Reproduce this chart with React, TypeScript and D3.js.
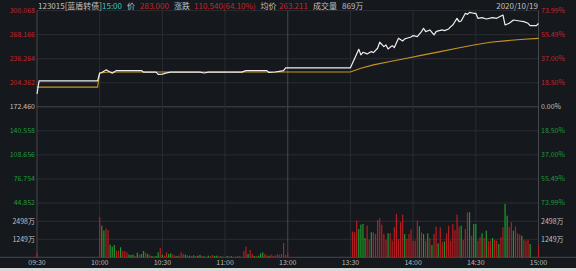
import React from 'react';
import * as d3 from 'd3';

// ---------- data ----------
const preClose = 172.46;
const priceTicks = [300.068, 268.166, 236.264, 204.362, 172.46, 140.558, 108.656, 76.754, 44.852];
const pctTicks = ['73.99%', '55.49%', '37.00%', '18.50%', '0.00%', '18.50%', '37.00%', '55.49%', '73.99%'];
const volTicks = [2498, 1249];
const volMax = 3747;
const timeTickMinutes = [0, 30, 60, 90, 120, 150, 180, 210, 240];
const timeLabels = ['09:30', '10:00', '10:30', '11:00', '13:00', '13:30', '14:00', '14:30', '15:00'];

const priceMinutes = [
  0, 1, 29, 30, 31, 33, 35, 36, 38, 50, 51, 57, 58, 60, 62, 64, 78, 80, 82, 98, 100, 110, 111, 114, 116, 118, 119, 120, 150,
  154, 155, 156, 158, 160, 161, 163, 164, 166, 167, 168, 170, 171, 173, 175, 176, 177, 179, 180, 182, 184, 185, 186, 188,
  190, 191, 192, 194, 195, 197, 198, 199, 201, 202, 203, 205, 206, 207, 209, 210, 211, 213, 215, 218, 220, 223, 224, 226,
  228, 231, 233, 235, 236, 239, 240,
];
const priceValues = [
  189.7, 206.95, 206.95, 217.3, 218.0, 221.4, 218.5, 217.1, 220.5, 220.5, 218.4, 218.4, 215.5, 215.8, 217.5, 218.4, 218.4,
  217.3, 218.4, 218.4, 220.5, 220.5, 218.0, 218.6, 219.5, 220.5, 224.2, 224.2, 224.2,
  248.8, 241.3, 244.8, 242.6, 245.7, 244.4, 250.1, 258.1, 252.3, 254.5, 249.2, 253.6, 251.0, 263.4, 259.8, 262.5, 263.4,
  265.1, 266.9, 265.6, 272.2, 276.6, 272.2, 274.4, 267.8, 272.2, 273.1, 274.4, 273.5, 275.7, 278.8, 281.0, 289.8, 285.4,
  286.3, 296.5, 295.1, 297.8, 296.5, 296.5, 289.8, 290.7, 288.9, 290.7, 289.8, 294.2, 281.0, 283.2, 287.6, 286.3, 285.4,
  283.2, 280.1, 280.1, 283.0,
];

const avgMinutes = [0, 29, 30, 33, 40, 150, 155, 161, 169, 177, 185, 193, 201, 209, 217, 225, 233, 240];
const avgValues = [198.5, 198.5, 217.0, 218.3, 218.6, 218.6, 223.6, 228.1, 232.5, 236.9, 241.3, 245.7, 250.1, 254.5, 258.1, 260.3, 262.0, 263.2];

// volume bars (万), up = 1 red, 0 green
const volMinutes = [
  0, 30, 31, 32, 33, 34, 35, 36, 37, 38, 39, 40, 41, 42, 43, 44, 45, 46, 47, 48, 49, 50, 51, 52, 53, 54, 55, 56, 57, 58, 59,
  60, 61, 62, 63, 64, 65, 66, 67, 68, 69, 70, 71, 72, 73, 74, 75, 76, 77, 78, 79, 80, 82, 83, 84, 85, 86, 87, 88, 89, 91,
  92, 93, 95, 96, 97, 99, 100, 101, 102, 103, 104, 105, 106, 107, 108, 109, 110, 111, 112, 113, 114, 115, 116, 117, 118,
  119, 120,
  151, 152, 153, 154, 155, 156, 157, 158, 159, 160, 161, 162, 163, 164, 165, 166, 167, 168, 169, 170, 171, 172, 173, 174,
  175, 176, 177, 178, 179, 180, 181, 182, 183, 184, 185, 186, 187, 188, 189, 190, 191, 192, 193, 194, 195, 196, 197, 198,
  199, 200, 201, 202, 203, 204, 205, 206, 207, 208, 209, 210, 211, 212, 213, 214, 215, 216, 217, 218, 219, 220, 221, 222,
  223, 224, 225, 226, 227, 228, 229, 230, 231, 232, 233, 234, 235, 236, 240,
];
const volValues = [
  324, 2776, 2197, 1850, 2012, 1897, 879, 740, 856, 463, 463, 694, 416, 440, 347, 185, 162, 185, 93, 324, 185, 231, 440, 324,
  231, 139, 93, 69, 93, 347, 648, 185, 116, 347, 231, 278, 185, 116, 93, 139, 347, 231, 185, 139, 116, 93, 139, 93, 116, 162,
  93, 69, 116, 69, 162, 93, 116, 69, 69, 46, 93, 69, 69, 46, 69, 93, 416, 740, 231, 509, 231, 93, 69, 116, 278, 347, 231, 139,
  93, 185, 116, 116, 231, 162, 231, 995, 162, 278,
  1781, 1735, 2544, 1966, 2267, 2313, 1342, 2197, 1226, 1735, 1735, 1619, 2591, 2706, 2267, 1619, 1203, 1665, 1688, 1157,
  2082, 3007, 1272, 2429, 2961, 1619, 1272, 1619, 1920, 1157, 1157, 2544, 2151, 1735, 1619, 1157, 1665, 1318, 856, 1619,
  2128, 971, 2082, 1041, 1110, 1665, 2197, 1157, 2313, 1897, 2961, 2128, 2197, 1203, 1966, 3123, 3123, 1503, 2313, 2313,
  1157, 1388, 1665, 1318, 1850, 1110, 1157, 1342, 1203, 1157, 925, 1388, 2082, 3701, 2891, 2082, 2429, 1850, 2128, 1665,
  1573, 1503, 1203, 1157, 1203, 925, 810,
];
const volUp = [
  1, 1, 0, 0, 1, 1, 0, 0, 0, 1, 1, 0, 1, 1, 1, 0, 0, 0, 1, 0, 1, 0, 0, 1, 0, 1, 0, 1, 0, 0, 1, 0, 1, 1, 0, 0, 1, 1, 0, 1, 1,
  1, 0, 1, 0, 1, 0, 1, 0, 0, 1, 0, 0, 1, 1, 0, 0, 1, 0, 1, 0, 1, 0, 1, 1, 1, 1, 1, 0, 1, 1, 0, 1, 0, 0, 0, 1, 1, 0, 1, 1, 1,
  1, 1, 1, 1, 1, 1,
  1, 1, 1, 0, 0, 0, 0, 1, 1, 0, 1, 1, 1, 1, 1, 1, 1, 0, 1, 1, 1, 1, 1, 1, 1, 0, 1, 1, 1, 1, 1, 1, 0, 1, 0, 1, 0, 1, 0, 1, 1,
  0, 1, 1, 0, 1, 1, 1, 1, 1, 1, 1, 0, 1, 1, 1, 0, 1, 0, 0, 1, 1, 0, 1, 0, 1, 1, 0, 1, 1, 0, 1, 1, 0, 0, 1, 1, 0, 1, 1, 1, 0,
  1, 1, 1, 0, 1,
];

// ---------- styles ----------
const BG = '#15181d';
const GRID = '#2a2d33';
const GRID_STRONG = '#45484e';
const RED = '#c4262c';
const GREEN = '#1f9a3a';
const GRAY = '#c0c0c0';
const FONT = '"Noto Sans CJK SC", "Noto Sans", sans-serif';

export default function App() {
  const W = 576;
  const H = 271;
  const left = 37;
  const right = 538.5;
  const x = d3.scaleLinear().domain([0, 240]).range([left, right]);
  const y = d3.scaleLinear().domain([44.852, 300.068]).range([203, 10.6]);
  const yv = d3.scaleLinear().domain([0, volMax]).range([257.3, 203.3]);

  const priceLine = d3
    .line<number>()
    .x((_, i) => x(priceMinutes[i]))
    .y((d) => y(d));
  const avgLine = d3
    .line<number>()
    .x((_, i) => x(avgMinutes[i]))
    .y((d) => y(d));

  const labelColor = (v: number) => (Math.abs(v - preClose) < 1e-6 ? GRAY : v > preClose ? RED : GREEN);

  return (
    <svg width={W} height={H} style={{ position: 'absolute', left: 0, top: 0, display: 'block' }} fontFamily={FONT}>
      <rect x={0} y={0} width={W} height={H} fill={BG} />
      <rect x={0} y={268} width={W} height={3} fill="#d8d8d8" />

      {/* horizontal grid - price */}
      {priceTicks.map((t, i) => (
        <line
          key={'hp' + i}
          x1={left}
          x2={right}
          y1={y(t)}
          y2={y(t)}
          stroke={Math.abs(t - preClose) < 1e-6 ? GRID_STRONG : GRID}
          strokeWidth={1}
        />
      ))}
      {/* horizontal grid - volume */}
      {volTicks.map((t, i) => (
        <line key={'hv' + i} x1={left} x2={right} y1={yv(t)} y2={yv(t)} stroke={GRID} strokeWidth={1} />
      ))}
      <line x1={0} x2={W} y1={yv(0)} y2={yv(0)} stroke={GRID_STRONG} strokeWidth={1} />

      {/* vertical grid */}
      {timeTickMinutes.map((m, i) => (
        <line
          key={'vg' + i}
          x1={x(m)}
          x2={x(m)}
          y1={y(300.068)}
          y2={yv(0)}
          stroke={m === 0 || m === 240 || m === 120 ? GRID_STRONG : GRID}
          strokeWidth={1}
        />
      ))}

      {/* volume bars */}
      {volMinutes.map((m, i) => (
        <rect
          key={'vb' + i}
          x={x(m) - 0.6}
          y={yv(volValues[i])}
          width={1.2}
          height={yv(0) - yv(volValues[i])}
          fill={volUp[i] ? '#b51e22' : '#1e9a2c'}
        />
      ))}

      {/* average line */}
      <path d={avgLine(avgValues) || ''} fill="none" stroke="#c8961d" strokeWidth={1.1} />
      {/* price line */}
      <path d={priceLine(priceValues) || ''} fill="none" stroke="#eeeeee" strokeWidth={1.2} strokeLinejoin="round" />

      {/* left labels */}
      {priceTicks.map((t, i) => (
        <text key={'lp' + i} x={35} y={y(t)} dy="0.35em" textAnchor="end" fontSize={7} fill={labelColor(t)}>
          {t.toFixed(3)}
        </text>
      ))}
      {volTicks.map((t, i) => (
        <text key={'lv' + i} x={35} y={yv(t)} dy="0.35em" textAnchor="end" fontSize={7} fill={GRAY}>
          {t + '万'}
        </text>
      ))}
      {/* right labels */}
      {priceTicks.map((t, i) => (
        <text key={'rp' + i} x={541} y={y(t)} dy="0.35em" textAnchor="start" fontSize={7} fill={labelColor(t)}>
          {pctTicks[i]}
        </text>
      ))}
      {volTicks.map((t, i) => (
        <text key={'rv' + i} x={541} y={yv(t)} dy="0.35em" textAnchor="start" fontSize={7} fill={GRAY}>
          {t + '万'}
        </text>
      ))}
      {/* x labels */}
      {timeTickMinutes.map((m, i) => (
        <text key={'xl' + i} x={x(m)} y={263} dy="0.35em" textAnchor="middle" fontSize={7} fill="#b8b8b8">
          {timeLabels[i]}
        </text>
      ))}

      {/* header */}
      <g fontSize={8} dominantBaseline="alphabetic">
        <text x={38} y={8.5} fill={GRAY}>123015[蓝盾转债]</text>
        <text x={102} y={8.5} fill="#35c3c0">15:00</text>
        <text x={127} y={8.5} fill={GRAY}>价</text>
        <text x={140} y={8.5} fill={RED}>283.000</text>
        <text x={174} y={8.5} fill={GRAY}>涨跌</text>
        <text x={194} y={8.5} fill={RED}>110.540(64.10%)</text>
        <text x={260.5} y={8.5} fill={GRAY}>均价</text>
        <text x={279} y={8.5} fill={RED}>263.211</text>
        <text x={313} y={8.5} fill={GRAY}>成交量</text>
        <text x={342} y={8.5} fill={GRAY}>869万</text>
        <text x={538} y={8.5} fill={GRAY} textAnchor="end">2020/10/19</text>
      </g>
    </svg>
  );
}
